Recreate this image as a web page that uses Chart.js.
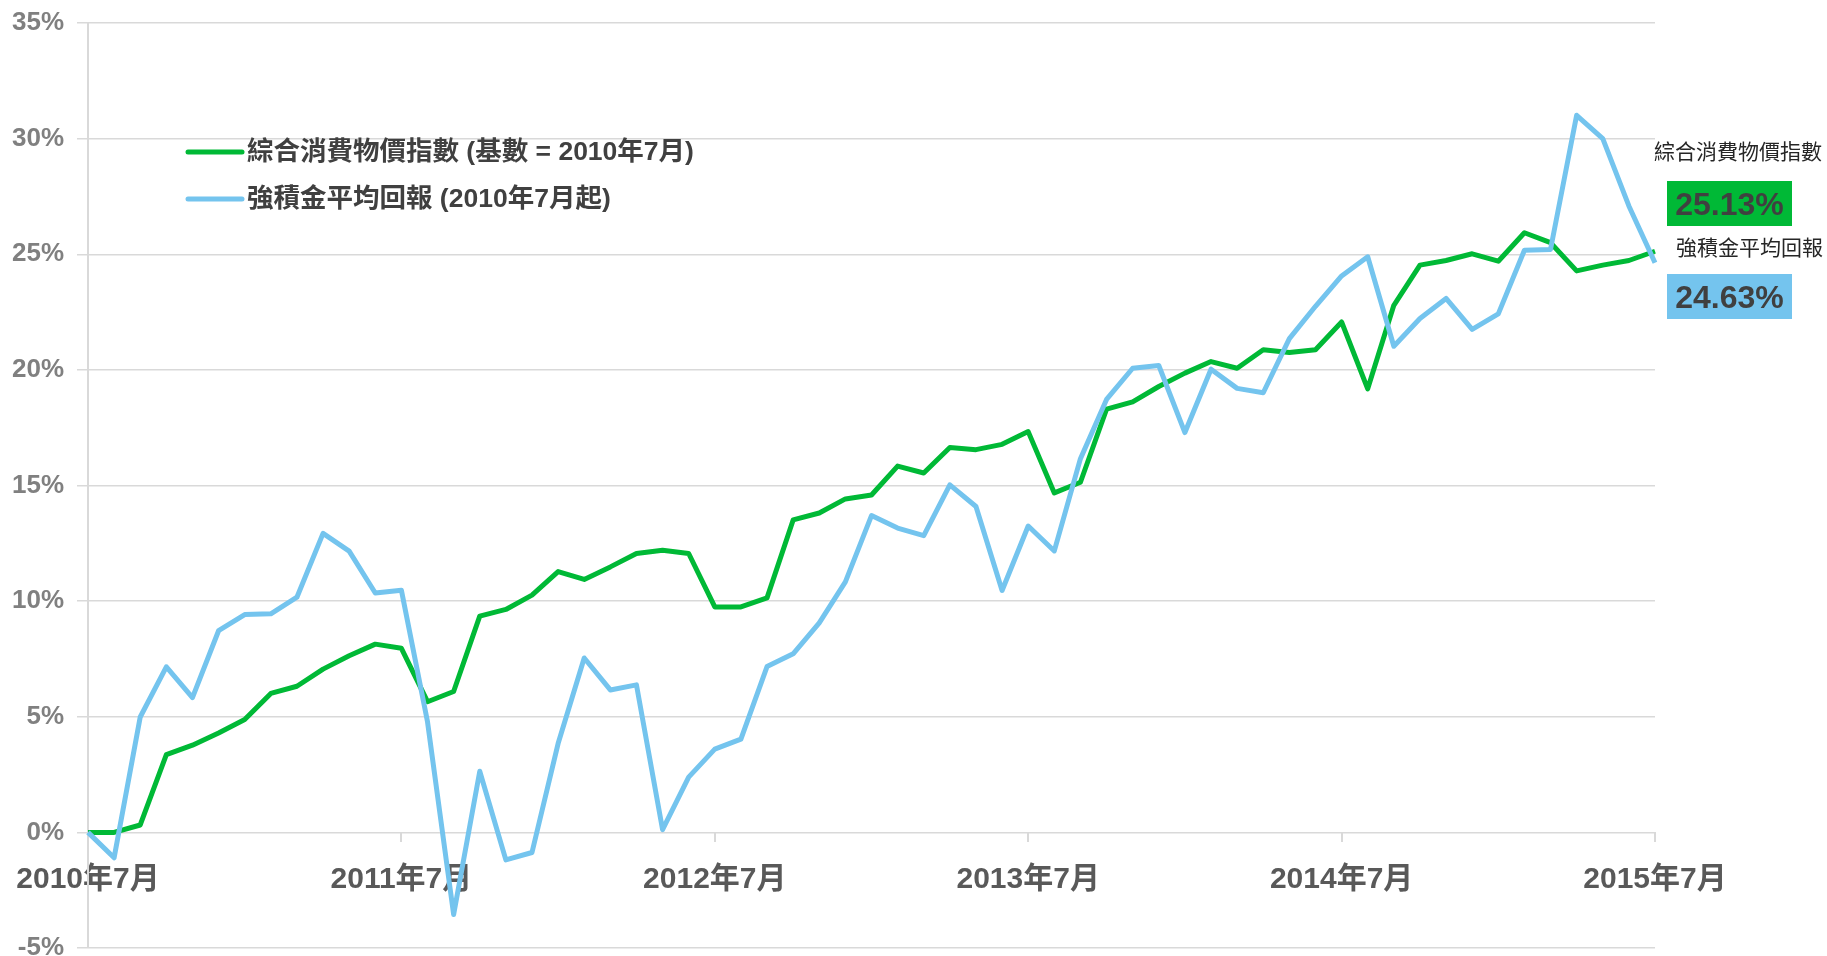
<!DOCTYPE html>
<html lang="zh-Hant">
<head>
<meta charset="utf-8">
<title>綜合消費物價指數與強積金平均回報</title>
<script src="https://cdn.jsdelivr.net/npm/chart.js@4.4.1/dist/chart.umd.min.js"></script>
<style>
  html, body { margin: 0; padding: 0; background: #fff; overflow: hidden; }
  .chart-wrap { position: relative; width: 1827px; height: 970px; }
</style>
</head>
<body>
<div class="chart-wrap"><canvas id="mpf-cpi-chart"></canvas></div>
<script>
// Month categories, 2010年7月 .. 2015年7月
const months = [];
for (let y = 2010; y <= 2015; y++) {
  for (let m = 1; m <= 12; m++) {
    if ((y === 2010 && m < 7) || (y === 2015 && m > 7)) continue;
    months.push(`${y}年${m}月`);
  }
}

// Cumulative change since 2010年7月, in %
const cpiValues = [
  0, 0, 0.32, 3.36, 3.77, 4.3, 4.88, 6.01, 6.32, 7.06, 7.64, 8.14, 7.96,
  5.65, 6.09, 9.35, 9.64, 10.26, 11.28, 10.94, 11.48, 12.06, 12.2, 12.06, 9.75,
  9.75, 10.14, 13.51, 13.81, 14.42, 14.59, 15.84, 15.54, 16.64, 16.55, 16.78, 17.33,
  14.68, 15.14, 18.3, 18.62, 19.28, 19.86, 20.36, 20.07, 20.87, 20.75, 20.87, 22.07,
  19.18, 22.79, 24.53, 24.73, 25.02, 24.7, 25.93, 25.5, 24.28, 24.53, 24.73, 25.13,
];
const mpfValues = [
  0, -1.1, 4.99, 7.16, 5.83, 8.72, 9.42, 9.45, 10.17, 12.93, 12.16, 10.35, 10.47,
  4.78, -3.55, 2.64, -1.19, -0.87, 3.84, 7.54, 6.16, 6.38, 0.12, 2.39, 3.6,
  4.03, 7.17, 7.72, 9.06, 10.83, 13.7, 13.16, 12.83, 15.03, 14.09, 10.46, 13.25,
  12.17, 16.16, 18.72, 20.07, 20.19, 17.29, 20.03, 19.2, 19.01, 21.35, 22.75, 24.06,
  24.89, 21.02, 22.22, 23.09, 21.75, 22.42, 25.17, 25.21, 31.01, 30.0, 27.09, 24.63,
];

const seriesNames = ["綜合消費物價指數 (基數 = 2010年7月)", "強積金平均回報 (2010年7月起)"];
const shortNames = ["綜合消費物價指數", "強積金平均回報"];
const seriesColors = ["#00b936", "#74c4ee"];
const seriesValues = [cpiValues, mpfValues];

const FONT = "'Liberation Sans', Arial, 'Noto Sans CJK TC', sans-serif";
const GRID = "#d9d9d9";

// legend in the plot + value tags on the right
const overlayPlugin = {
  id: "overlayLabels",
  afterDraw(chart) {
    const { ctx, chartArea } = chart;
    ctx.save();
    ctx.textBaseline = "middle";

    seriesNames.forEach((name, i) => {
      const y = 152 + i * 47;
      ctx.strokeStyle = seriesColors[i];
      ctx.lineWidth = 5;
      ctx.lineCap = "round";
      ctx.beginPath();
      ctx.moveTo(188, y);
      ctx.lineTo(242, y);
      ctx.stroke();
      ctx.fillStyle = "#404040";
      ctx.font = `bold 26.5px ${FONT}`;
      ctx.textAlign = "left";
      ctx.fillText(name, 247, y + 1);
    });

    const x0 = chartArea.right;
    const tags = [
      { nameX: x0 - 1, nameY: 153, boxY: 181 },
      { nameX: x0 + 21, nameY: 249, boxY: 274 },
    ];
    tags.forEach((t, i) => {
      const vals = seriesValues[i];
      ctx.fillStyle = "#262626";
      ctx.font = `21px ${FONT}`;
      ctx.textAlign = "left";
      ctx.fillText(shortNames[i], t.nameX, t.nameY);

      ctx.fillStyle = seriesColors[i];
      ctx.fillRect(x0 + 12, t.boxY, 125, 45);
      ctx.fillStyle = "#404040";
      ctx.font = `bold 32px ${FONT}`;
      ctx.textAlign = "center";
      ctx.fillText(vals[vals.length - 1].toFixed(2) + "%", x0 + 12 + 62.5, t.boxY + 25);
    });
    ctx.restore();
  },
};

const ctx = document.getElementById("mpf-cpi-chart").getContext("2d");
new Chart(ctx, {
  type: "line",
  data: {
    labels: months,
    datasets: seriesValues.map((vals, i) => ({
      label: seriesNames[i],
      data: vals,
      borderColor: seriesColors[i],
      backgroundColor: seriesColors[i],
      borderWidth: 5,
      borderJoinStyle: "round",
      pointRadius: 0,
      tension: 0,
      order: i === 1 ? 0 : 1,
    })),
  },
  options: {
    responsive: true,
    maintainAspectRatio: false,
    animation: false,
    layout: { padding: { top: 23, right: 172, bottom: 22, left: 0 } },
    plugins: {
      legend: { display: false },
      tooltip: { enabled: false },
    },
    scales: {
      x: {
        position: { y: 0 },
        afterFit: (scale) => {
          scale.paddingTop = 0;
          scale.paddingBottom = 0;
          scale.paddingLeft = 0;
          scale.paddingRight = 0;
        },
        grid: {
          drawOnChartArea: false,
          drawTicks: true,
          tickLength: 10,
          lineWidth: 2,
          color: (c) => (c.index % 12 === 0 ? GRID : "rgba(0,0,0,0)"),
        },
        border: { display: false },
        ticks: {
          autoSkip: false,
          maxRotation: 0,
          minRotation: 0,
          padding: 19,
          color: "#595959",
          font: { family: FONT, size: 30, weight: "bold" },
          callback: function (value, index) {
            return index % 12 === 0 ? this.getLabelForValue(value) : "";
          },
        },
      },
      y: {
        min: -5,
        max: 35,
        afterFit: (scale) => {
          scale.width = 88;
          scale.paddingTop = 0;
          scale.paddingBottom = 0;
        },
        grid: { color: GRID, lineWidth: 1.5, tickLength: 11 },
        border: { color: GRID, width: 2 },
        ticks: {
          stepSize: 5,
          padding: 13,
          color: "#808080",
          font: { family: FONT, size: 26, weight: "bold" },
          callback: (v) => v + "%",
        },
      },
    },
  },
  plugins: [overlayPlugin],
});
</script>
</body>
</html>
